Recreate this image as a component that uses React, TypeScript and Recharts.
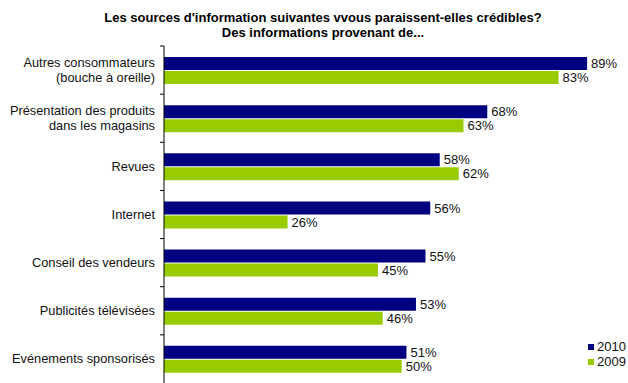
import { Bar, BarChart, LabelList, XAxis, YAxis } from "recharts";

const categories = [
  "Autres consommateurs\n(bouche à oreille)",
  "Présentation des produits\ndans les magasins",
  "Revues",
  "Internet",
  "Conseil des vendeurs",
  "Publicités télévisées",
  "Evénements sponsorisés",
];
const values2010 = [89, 68, 58, 56, 55, 53, 51];
const values2009 = [83, 63, 62, 26, 45, 46, 50];
const seriesNames = ["2010", "2009"];
const seriesColors = ["#000080", "#99cc00"];

const data = categories.map((name, i) => ({ name, v2010: values2010[i], v2009: values2009[i] }));

const FONT = "'Liberation Sans', Arial, sans-serif";

const CategoryTick = (props: any) => {
  const { x, y, payload } = props;
  const lines: string[] = String(payload.value).split("\n");
  const half = 48.14 / 2;
  const start = -((lines.length - 1) * 15) / 2;
  return (
    <g>
      <line x1={x + 4} x2={x + 8} y1={y - half} y2={y - half} stroke="#000" />
      <text x={x - 1} y={y} textAnchor="end" fontSize={12.8} fontFamily={FONT} fill="#111">
        {lines.map((l, i) => (
          <tspan key={i} x={x - 1} y={y + start + i * 15} dy="0.35em">
            {l}
          </tspan>
        ))}
      </text>
    </g>
  );
};

const pct = (v: any) => `${v}%`;

export default function App() {
  return (
    <div style={{ position: "absolute", left: 0, top: 0, width: 628, height: 383, background: "#fff", overflow: "hidden" }}>
      <div
        style={{
          position: "absolute",
          left: 23,
          width: 600,
          top: 10,
          textAlign: "center",
          whiteSpace: "nowrap",
          fontFamily: FONT,
          fontWeight: "bold",
          fontSize: 13,
          lineHeight: "15px",
          color: "#000",
        }}
      >
        Les sources d'information suivantes vvous paraissent-elles crédibles?
        <br />
        Des informations provenant de...
      </div>
      <BarChart
        width={628}
        height={383}
        data={data}
        layout="vertical"
        margin={{ top: 46, right: 0, bottom: 0, left: 0 }}
        barGap={1}
        barSize={13}
      >
        <XAxis type="number" domain={[0, 97.6]} allowDataOverflow hide />
        <YAxis
          type="category"
          dataKey="name"
          width={164}
          axisLine={{ stroke: "#000" }}
          tickLine={false}
          tick={<CategoryTick />}
          interval={0}
        />
        <Bar dataKey="v2010" name="2010" fill={seriesColors[0]} isAnimationActive={false}>
          <LabelList dataKey="v2010" position="right" offset={4} formatter={pct} fill="#111" fontSize={13} fontFamily={FONT} />
        </Bar>
        <Bar dataKey="v2009" name="2009" fill={seriesColors[1]} isAnimationActive={false}>
          <LabelList dataKey="v2009" position="right" offset={4} formatter={pct} fill="#111" fontSize={13} fontFamily={FONT} />
        </Bar>
      </BarChart>
      <div style={{ position: "absolute", left: 588, top: 339, fontFamily: FONT, fontSize: 13, lineHeight: "15px", color: "#111" }}>
        {seriesNames.map((n, i) => (
          <div key={n} style={{ display: "flex", alignItems: "center" }}>
            <span style={{ display: "inline-block", width: 6, height: 6, background: seriesColors[i], marginRight: 3 }} />
            {n}
          </div>
        ))}
      </div>
    </div>
  );
}
